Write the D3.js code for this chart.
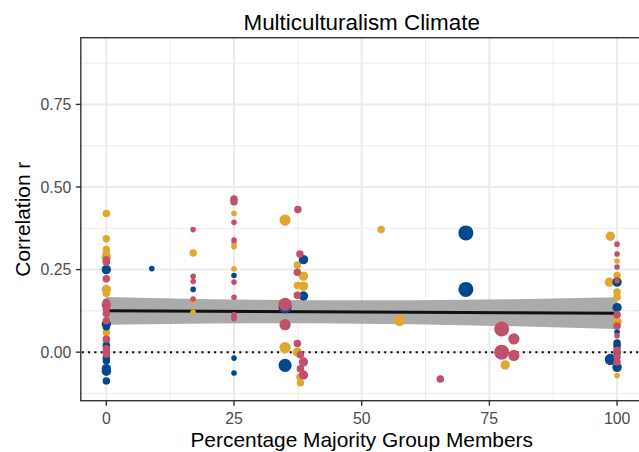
<!DOCTYPE html>
<html><head><meta charset="utf-8">
<script src="https://cdn.jsdelivr.net/npm/d3@7"></script>
<style>body{margin:0;background:#fff}svg{display:block}text{font-family:"Liberation Sans",Arial,Helvetica,sans-serif}</style>
</head><body><svg id="chart" width="639" height="452"></svg>
<script>
const chartTitle = "Multiculturalism Climate";
const xTitle = "Percentage Majority Group Members";
const yTitle = "Correlation r";
const xTicks = [0, 25, 50, 75, 100];
const xTickLabels = ["0", "25", "50", "75", "100"];
const yTicks = [0, 0.25, 0.5, 0.75];
const yTickLabels = ["0.00", "0.25", "0.50", "0.75"];
const xMinor = [12.5, 37.5, 62.5, 87.5];
const yMinor = [-0.125, 0.125, 0.375, 0.625, 0.875];

// points: [percentage majority, correlation r, sample-size class]
const goldPoints = [
  [0,0.42,2],[0,0.343,2],[0,0.311,2],[0,0.297,2],[0,0.289,3],[0,0.19,3],[0,0.178,2],[0,0.06,2],[0,0.034,2],
  [17,0.30,2],[17,0.151,1],[17,0.121,1],
  [25,0.42,1],[25,0.329,1],[25,0.319,1],[25,0.252,1],
  [35,0.40,4],[35,0.014,4],
  [37.4,0.264,2],[37.4,0.202,2],[37.4,0.0,3],[38.6,0.23,3],[38.6,0.2,3],[37.9,-0.075,2],[38,-0.093,2],
  [53.8,0.371,2],[57.4,0.096,4],[78.1,-0.039,3],
  [98.7,0.351,3],[98.5,0.212,3],
  [100,0.276,1],[100,0.232,2],[100,0.182,2],[100,0.167,2],[100,0.091,3],[100,-0.071,1]
];
const bluePoints = [
  [0,0.25,3],[0,0.085,3],[0,0.077,2],[0,0.02,2],[0,-0.016,2],[0,-0.026,2],[0,-0.05,3],[0,-0.058,3],[0,-0.087,2],
  [8.9,0.253,1],
  [17,0.19,1],
  [25,0.232,1],[25,-0.018,1],[25,-0.063,1],
  [35,0.137,5],[35,-0.04,5],
  [38.6,0.28,3],[38.6,0.17,3],
  [70.4,0.361,6],[70.4,0.19,6],
  [98.7,-0.022,4],
  [100,0.212,3],[100,0.135,3],[100,0.061,1],[100,0.028,2],[100,0.018,2],[100,-0.002,2],[100,-0.046,3]
];
const redPoints = [
  [0,0.28,2],[0,0.272,2],[0,0.222,2],[0,0.151,2],[0,0.143,3],[0,0.131,2],[0,0.117,2],[0,0.095,2],[0,0.04,2],[0,0.01,2],[0,0.002,2],[0,-0.006,2],
  [17,0.371,1],[17,0.23,1],[17,0.214,1],[17,0.161,1],
  [25,0.464,2],[25,0.455,2],[25,0.393,1],[25,0.339,1],[25,0.212,1],[25,0.166,1],[25,0.113,1],[25,0.107,1],[25,0.101,1],
  [35,0.145,5],[35,0.083,4],
  [37.5,0.432,2],[37.9,0.297,2],[37.4,0.242,2],[37.4,0.172,2],[37.4,0.026,2],[38,-0.008,2],[38.6,-0.03,3],[38,-0.05,2],[38.6,-0.069,3],
  [65.4,-0.081,2],
  [77.4,0.07,6],[77.4,0.0,6],[79.8,0.04,4],[79.8,-0.01,4],
  [100,0.327,1],[100,0.297,1],[100,0.258,1],[100,0.216,1],[100,0.113,2],[100,0.079,2],[100,0.05,1],[100,0.006,2],[100,-0.014,2],[100,-0.03,2]
];

// linear fit with confidence band
const fitX = [0, 20, 40, 60, 80, 100];
const fitY = [0.125, 0.1236, 0.1222, 0.1208, 0.1194, 0.118];
const fitLower = [0.083, 0.0868, 0.0875, 0.0846, 0.0784, 0.070];
const fitUpper = [0.167, 0.1604, 0.1569, 0.157, 0.1604, 0.166];

const colors = {gold: "#E1A82F", blue: "#00498D", red: "#C2506A"};

const svg = d3.select("#chart");
svg.append("rect").attr("width", 639).attr("height", 452).attr("fill", "#fff");

const x = d3.scaleLinear().domain([-5, 105]).range([80.8, 642.6]);
const y = d3.scaleLinear().domain([-0.147, 0.952]).range([400.7, 37.7]);
const rScale = d3.scaleLinear().domain([1, 6]).range([2.8, 7.5]);
const [px0, px1] = x.range();
const [py1, py0] = y.range();

svg.append("clipPath").attr("id", "clip").append("rect")
  .attr("x", px0).attr("y", py0).attr("width", px1 - px0).attr("height", py1 - py0);
const panel = svg.append("g").attr("clip-path", "url(#clip)");

// grid
panel.selectAll(".yminor").data(yMinor).join("line")
  .attr("x1", px0).attr("x2", px1).attr("y1", d => y(d)).attr("y2", d => y(d))
  .attr("stroke", "#EBEBEB").attr("stroke-width", 1);
panel.selectAll(".xminor").data(xMinor).join("line")
  .attr("y1", py0).attr("y2", py1).attr("x1", d => x(d)).attr("x2", d => x(d))
  .attr("stroke", "#EBEBEB").attr("stroke-width", 1);
panel.selectAll(".ymajor").data(yTicks).join("line")
  .attr("x1", px0).attr("x2", px1).attr("y1", d => y(d)).attr("y2", d => y(d))
  .attr("stroke", "#EBEBEB").attr("stroke-width", 2);
panel.selectAll(".xmajor").data(xTicks).join("line")
  .attr("y1", py0).attr("y2", py1).attr("x1", d => x(d)).attr("x2", d => x(d))
  .attr("stroke", "#EBEBEB").attr("stroke-width", 2);

// zero reference line
panel.append("line").attr("x1", px0 + 1).attr("x2", px1).attr("y1", y(0)).attr("y2", y(0))
  .attr("stroke", "#000").attr("stroke-width", 2).attr("stroke-dasharray", "2 4.3");

// band + fit
const band = fitX.map((v, i) => ({x: v, lo: fitLower[i], hi: fitUpper[i], f: fitY[i]}));
panel.append("path").datum(band)
  .attr("d", d3.area().x(d => x(d.x)).y0(d => y(d.lo)).y1(d => y(d.hi)))
  .attr("fill", "#ABABAB");
panel.append("path").datum(band)
  .attr("d", d3.line().x(d => x(d.x)).y(d => y(d.f)))
  .attr("fill", "none").attr("stroke", "#111").attr("stroke-width", 3);

// points
function drawPoints(data, color) {
  panel.append("g").selectAll("circle").data(data).join("circle")
    .attr("cx", d => x(d[0])).attr("cy", d => y(d[1])).attr("r", d => rScale(d[2]))
    .attr("fill", color);
}
drawPoints(goldPoints, colors.gold);
drawPoints(bluePoints, colors.blue);
drawPoints(redPoints, colors.red);

// border
svg.append("rect").attr("x", px0).attr("y", py0).attr("width", px1 - px0).attr("height", py1 - py0)
  .attr("fill", "none").attr("stroke", "#333").attr("stroke-width", 1.4);

// axes
const yAxis = svg.append("g");
yAxis.selectAll("line").data(yTicks).join("line")
  .attr("x1", px0 - 5).attr("x2", px0).attr("y1", d => y(d)).attr("y2", d => y(d))
  .attr("stroke", "#333").attr("stroke-width", 1.4);
yAxis.selectAll("text").data(yTicks).join("text")
  .attr("x", px0 - 9.5).attr("y", d => y(d)).attr("dy", "0.36em")
  .attr("text-anchor", "end").attr("font-size", 15.8).attr("fill", "#4D4D4D")
  .text((d, i) => yTickLabels[i]);

const xAxis = svg.append("g");
xAxis.selectAll("line").data(xTicks).join("line")
  .attr("y1", py1).attr("y2", py1 + 5).attr("x1", d => x(d)).attr("x2", d => x(d))
  .attr("stroke", "#333").attr("stroke-width", 1.4);
xAxis.selectAll("text").data(xTicks).join("text")
  .attr("x", d => x(d)).attr("y", 424)
  .attr("text-anchor", "middle").attr("font-size", 15.8).attr("fill", "#4D4D4D")
  .text((d, i) => xTickLabels[i]);

// titles
svg.append("text").attr("x", (px0 + px1) / 2).attr("y", 447)
  .attr("text-anchor", "middle").attr("font-size", 20.9).attr("fill", "#000").text(xTitle);
svg.append("text").attr("transform", `translate(29.5,${(py0 + py1) / 2}) rotate(-90)`)
  .attr("text-anchor", "middle").attr("font-size", 20.9).attr("fill", "#000").text(yTitle);
svg.append("text").attr("x", (px0 + px1) / 2).attr("y", 30)
  .attr("text-anchor", "middle").attr("font-size", 22.4).attr("fill", "#000").text(chartTitle);
</script></body></html>
